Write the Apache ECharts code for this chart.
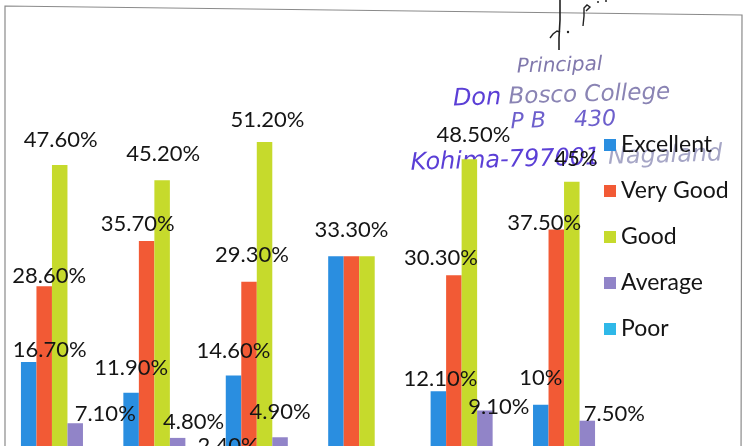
<!DOCTYPE html>
<html>
<head>
<meta charset="utf-8">
<script src="https://cdn.jsdelivr.net/npm/echarts@6/dist/echarts.min.js"></script>
<style>
html,body{margin:0;padding:0;background:#fff;overflow:hidden;width:754px;height:446px;}
#chart{width:754px;height:469px;}
</style>
</head>
<body>
<div id="chart"></div>
<script>
// ---- data ----
const categories = ['1', '2', '3', '4', '5', '6'];
const seriesNames = ['Excellent', 'Very Good', 'Good', 'Average', 'Poor'];
const excellent = [16.7, 11.9, 14.6, 33.3, 12.1, 10];
const veryGood  = [28.6, 35.7, 29.3, 33.3, 30.3, 37.5];
const good      = [47.6, 45.2, 51.2, 33.3, 48.5, 45];
const average   = [7.1, 4.8, 4.9, 0, 9.1, 7.5];
const poor      = [0, 2.4, 0, 0, 0, 0];

// ---- styles ----
const colors = ['#2a8ee0', '#f25a35', '#c6da2c', '#9184c8', '#2fb8e8'];
// label nudges [dx, dy] per series per category (null = label not shown)
const labelNudge = [
  [[21,-1],[0,-14],[0,-14],null,[2,-1],[0,-16]],
  [[5,1],[-9,-6],[3,-16],[0,-15],[-13,-6],[-12,4]],
  [[1,-14],[1,-15],[3,-11],null,[4,-13],[4,-12]],
  [[30,2],[16,-5],[0,-14],null,[14,7],[27,4]],
  [null,[35,4],null,null,null,null]
];

const allValues = [excellent, veryGood, good, average, poor];

function fmt(v) {
  return Number.isInteger(v) ? v + '%' : v.toFixed(2) + '%';
}

const series = allValues.map((vals, s) => ({
  name: seriesNames[s],
  type: 'bar',
  barGap: '0%',
  barCategoryGap: '24.3%',
  itemStyle: { color: colors[s] },
  label: {
    show: true,
    position: 'top',
    distance: 0,
    fontFamily: 'Lato',
    fontSize: 22,
    color: '#151515',
    formatter: p => fmt(p.value)
  },
  data: vals.map((v, i) => {
    const n = labelNudge[s][i];
    return n ? { value: v, label: { show: true, offset: n } } : { value: v, label: { show: false } };
  })
}));

const chart = echarts.init(document.getElementById('chart'), null, { renderer: 'canvas' });
chart.setOption({
  animation: false,
  backgroundColor: '#ffffff',
  grid: { left: 8.5, right: 131, top: 22.25, bottom: 0.5, containLabel: false },
  xAxis: {
    type: 'category',
    data: categories,
    axisLine: { show: false },
    axisTick: { show: false },
    axisLabel: { show: false }
  },
  yAxis: {
    type: 'value',
    min: 0,
    max: 70,
    show: false,
    splitLine: { show: false }
  },
  legend: {
    orient: 'vertical',
    left: 599,
    top: 128,
    icon: 'rect',
    itemWidth: 12,
    itemHeight: 12,
    itemGap: 22,
    textStyle: { fontFamily: 'Lato', fontSize: 23, lineHeight: 24, color: '#151515' },
    data: seriesNames
  },
  series: series,
  graphic: [
    // chart frame (scanned, slightly skewed)
    { type: 'polyline', silent: true, z: 0,
      shape: { points: [[5, 469], [5, 6], [742, 15], [741, 469]] },
      style: { stroke: '#8a8a8a', lineWidth: 1.2, fill: null } },
    // signature
    { type: 'polyline', silent: true, z: 20,
      shape: { points: [[560, 0], [560, 20], [559, 38], [559, 50]] },
      style: { stroke: '#222', lineWidth: 1.6, fill: null } },
    { type: 'polyline', silent: true, z: 20,
      shape: { points: [[550, 38], [553, 34], [557, 31], [560, 32]] },
      style: { stroke: '#222', lineWidth: 1.4, fill: null } },
    { type: 'circle', silent: true, z: 20, shape: { cx: 568, cy: 32, r: 1.2 }, style: { fill: '#222' } },
    { type: 'polyline', silent: true, z: 20,
      shape: { points: [[583, 26], [584, 16], [584, 8], [587, 5], [590, 7], [586, 11]] },
      style: { stroke: '#222', lineWidth: 1.4, fill: null } },
    { type: 'circle', silent: true, z: 20, shape: { cx: 598, cy: 2, r: 1 }, style: { fill: '#222' } },
    { type: 'circle', silent: true, z: 20, shape: { cx: 606, cy: 1, r: 1 }, style: { fill: '#222' } },
    // stamp
    { type: 'group', silent: true, z: 30, x: 0, y: 0, rotation: 0.03, originX: 560, originY: 110,
      children: [
        { type: 'text', x: 561, y: 66, style: { text: 'Principal', fontFamily: 'DejaVu Sans', fontStyle: 'italic',
          fontSize: 20, fill: '#8078ac', align: 'center', verticalAlign: 'middle' } },
        { type: 'text', x: 562, y: 96, style: { text: '{a|Don} {b|Bosco College}', fontFamily: 'DejaVu Sans', fontStyle: 'italic',
          fontSize: 23, align: 'center', verticalAlign: 'middle',
          rich: { a: { fill: '#5b3fd6', fontSize: 24, fontStyle: 'italic', fontFamily: 'DejaVu Sans' },
                  b: { fill: '#8a84b4', fontSize: 23, fontStyle: 'italic', fontFamily: 'DejaVu Sans' } } } },
        { type: 'text', x: 563, y: 121, style: { text: 'P B    430', fontFamily: 'DejaVu Sans', fontStyle: 'italic',
          fontSize: 22, fill: '#6d5fcc', align: 'center', verticalAlign: 'middle' } },
        { type: 'text', x: 565, y: 159, style: { text: '{a|Kohima-797001} {b|Nagaland}', fontFamily: 'DejaVu Sans', fontStyle: 'italic',
          fontSize: 24, align: 'center', verticalAlign: 'middle',
          rich: { a: { fill: '#5b3fd6', fontSize: 24, fontStyle: 'italic', fontFamily: 'DejaVu Sans' },
                  b: { fill: '#a6a6c6', fontSize: 24, fontStyle: 'italic', fontFamily: 'DejaVu Sans' } } } }
      ] }
  ]
});
</script>
</body>
</html>
